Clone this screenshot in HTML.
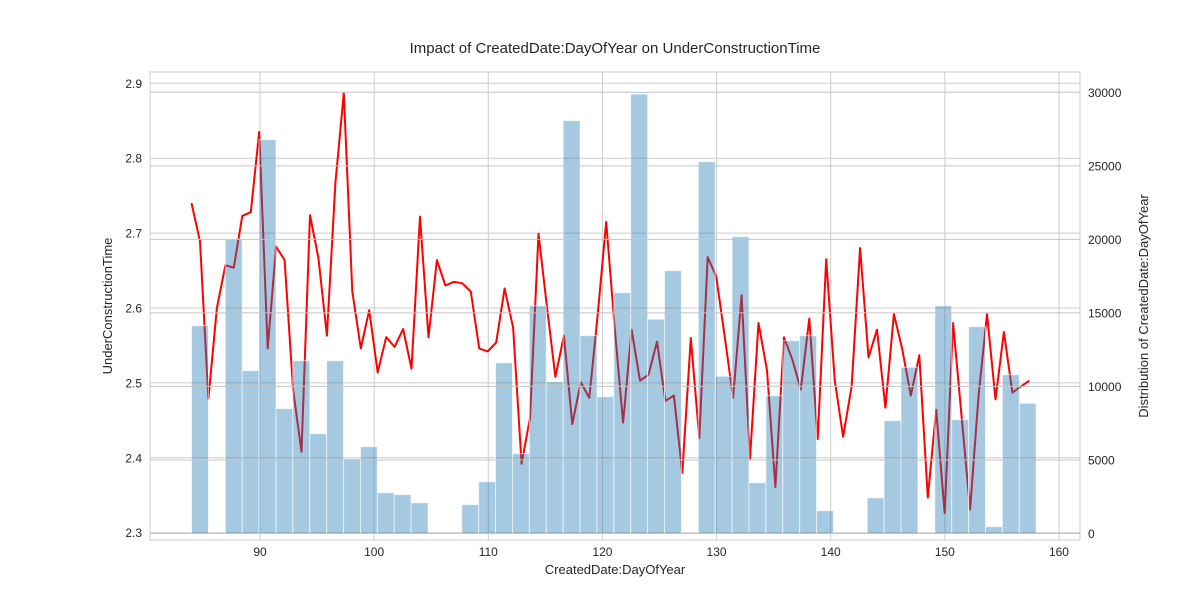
<!DOCTYPE html>
<html><head><meta charset="utf-8"><style>
body{margin:0;background:#fff;}
svg text{font-family:"Liberation Sans",Arial,sans-serif;fill:#262626;}
</style></head><body>
<svg id="chart" width="1200" height="600" viewBox="0 0 1200 600" xmlns="http://www.w3.org/2000/svg">
<rect x="0" y="0" width="1200" height="600" fill="#fff"/>
<text x="615" y="53" font-size="15" text-anchor="middle">Impact of CreatedDate:DayOfYear on UnderConstructionTime</text>
<g id="gridL"></g>
<g id="lineG"></g>
<g id="bars"></g>
<g id="gridR"></g>
<rect x="150" y="72" width="930" height="468" fill="none" stroke="#cccccc" stroke-width="1"/>
<g id="ticks"></g>
<text x="615" y="574" font-size="13" text-anchor="middle">CreatedDate:DayOfYear</text>
<text x="112" y="306" font-size="13" text-anchor="middle" transform="rotate(-90 112 306)">UnderConstructionTime</text>
<text x="1148" y="306" font-size="13" text-anchor="middle" transform="rotate(-90 1148 306)">Distribution of CreatedDate:DayOfYear</text>
</svg>
<script>
const lineValues = [2.740,2.689,2.479,2.600,2.657,2.654,2.723,2.728,2.835,2.546,
2.682,2.664,2.491,2.408,2.724,2.666,2.563,2.767,2.887,2.622,
2.546,2.597,2.514,2.561,2.548,2.572,2.519,2.722,2.561,2.664,
2.630,2.635,2.633,2.622,2.546,2.542,2.554,2.626,2.574,2.392,
2.453,2.699,2.602,2.508,2.563,2.445,2.501,2.480,2.591,2.715,
2.575,2.447,2.571,2.503,2.511,2.555,2.476,2.483,2.380,2.560,
2.426,2.668,2.642,2.562,2.480,2.617,2.399,2.580,2.517,2.361,
2.561,2.531,2.491,2.586,2.425,2.665,2.504,2.428,2.495,2.680,
2.534,2.571,2.467,2.592,2.544,2.483,2.537,2.347,2.464,2.326,
2.580,2.455,2.331,2.482,2.592,2.478,2.568,2.487,2.495,2.503];
const lineStart = 84, lineEnd = 157.4;
const binCounts = [14130,0,20006,11070,26780,8490,11750,6790,11750,5090,
5900,2770,2640,2090,0,0,1960,3520,11610,5430,
15490,10320,28070,13450,9300,16370,29870,14570,17870,0,
25280,10690,20180,3450,9370,13110,13450,1550,0,0,
2430,7670,11300,0,15490,7740,14060,460,10800,8850];
const binStart = 84, binEnd = 158;
const xTicks = [90,100,110,120,130,140,150,160];
const yTicksL = [2.3,2.4,2.5,2.6,2.7,2.8,2.9];
const yTicksR = [0,5000,10000,15000,20000,25000,30000];

const NS='http://www.w3.org/2000/svg';
const X = v => 260 + (v-90)*11.414;
const YL = v => 83.3 + (2.9-v)*749;
const YR = c => 533.5 - c*0.014707;
function mk(tag, attrs, parent){const e=document.createElementNS(NS,tag);for(const k in attrs)e.setAttribute(k,attrs[k]);parent.appendChild(e);return e;}
const gL=document.getElementById('gridL'), gR=document.getElementById('gridR'), tk=document.getElementById('ticks');
xTicks.forEach(t=>{
  const l=mk('line',{x1:X(t),x2:X(t),y1:72,y2:540,stroke:'#cccccc','stroke-width':1},gL);
  
  
  const s=mk('text',{x:X(t),y:556,'font-size':12,'text-anchor':'middle'},tk);
  s.textContent=t;
  
  
});
yTicksL.forEach(t=>{
  const l=mk('line',{x1:150,x2:1080,y1:YL(t),y2:YL(t),stroke:'#cccccc','stroke-width':1},gL);
  
  
  const s=mk('text',{x:142,y:YL(t)+4.5,'font-size':12,'text-anchor':'end'},tk);
  s.textContent=t.toFixed(1);
  
  
});
yTicksR.forEach(t=>{
  const l=mk('line',{x1:150,x2:1080,y1:YR(t),y2:YR(t),stroke:'#c4c4c4','stroke-width':1},gR);
  
  
  const s=mk('text',{x:1088,y:YR(t)+4.5,'font-size':12,'text-anchor':'start'},tk);
  s.textContent=t;
  
  
});
const n=lineValues.length;
const pts=lineValues.map((v,i)=>{const d=lineStart+(lineEnd-lineStart)*i/(n-1);return X(d).toFixed(1)+','+YL(v).toFixed(1);}).join(' ');
const pl=mk('polyline',{points:pts,fill:'none',stroke:'#ff0000','stroke-width':2,'stroke-linejoin':'round'},document.getElementById('lineG'));


const bw=(binEnd-binStart)/binCounts.length;
const bg=document.getElementById('bars');
binCounts.forEach((c,i)=>{
  if(c<=0)return;
  const x0=X(binStart+i*bw), x1=X(binStart+(i+1)*bw);
  const r=mk('rect',{x:x0,y:YR(c),width:x1-x0,height:YR(0)-YR(c),fill:'rgba(31,119,180,0.4)',stroke:'rgba(255,255,255,0.6)','stroke-width':1},bg);
  
  
});
</script>
</body></html>
